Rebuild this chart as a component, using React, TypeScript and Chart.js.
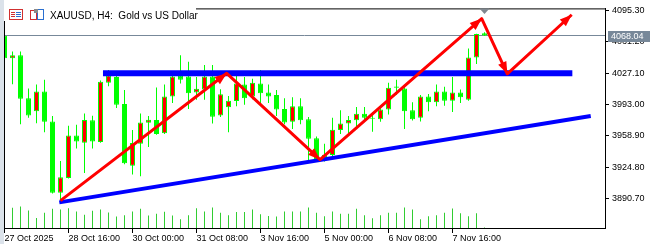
import React, { useEffect, useRef } from 'react';
import { Chart, registerables } from 'chart.js';

Chart.register(...registerables);

// ---- data (H4 bars, index 0..60) ----
const opens = [
  4067.7, 4043.3, 4046.5, 3999.8, 3985.6, 4006.9, 3974.3, 3896.8, 3913.0, 3959.1,
  3951.2, 3975.7, 3952.0, 4016.4, 4022.8, 3993.4, 3926.2, 3950.2, 3972.9, 3976.1,
  3961.5, 4001.6, 4024.2, 4023.4, 4005.8, 4009.3, 4023.4, 3981.0, 3989.9, 3996.6,
  4014.6, 4001.6, 4015.7, 4005.8, 4003.3, 3988.1, 3974.0, 3991.0, 3976.7, 3956.2,
  3938.2, 3937.9, 3965.0, 3972.2, 3975.7, 3982.8, 3978.5, 3976.7, 3987.3, 4012.5,
  4010.4, 3986.7, 3978.5, 4001.6, 3995.2, 4006.9, 3996.9, 4005.8, 3998.0, 4044.0, 4070.5,
];
const highs = [
  4068.8, 4050.4, 4050.4, 4010.4, 4014.6, 4019.9, 3980.3, 3931.5, 3969.7, 3970.8,
  3983.1, 3980.7, 4018.9, 4030.5, 4026.3, 4008.6, 3965.0, 3983.1, 3980.3, 4011.4,
  4014.6, 4026.3, 4046.5, 4039.4, 4022.8, 4035.9, 4035.9, 4009.6, 4002.2, 4026.3,
  4022.8, 4021.0, 4030.5, 4014.6, 4008.6, 3999.8, 4000.8, 3999.8, 3979.3, 3958.0,
  3950.2, 3978.5, 3986.7, 3980.3, 3990.2, 3990.2, 3984.6, 3990.9, 4016.4, 4019.9,
  4013.9, 3995.2, 4003.3, 4004.3, 4014.6, 4012.2, 4022.8, 4009.3, 4053.9, 4069.8, 4071.5,
];
const lows = [
  4042.2, 4014.9, 3971.4, 3978.5, 3972.5, 3962.6, 3896.0, 3887.5, 3912.4, 3944.9,
  3918.3, 3944.9, 3951.2, 4012.8, 3989.1, 3927.9, 3916.6, 3914.8, 3946.7, 3960.0,
  3960.8, 3994.4, 4015.7, 3988.1, 3998.0, 3998.0, 3972.2, 3979.3, 3962.6, 3991.0,
  3992.6, 3998.7, 3994.4, 3994.4, 3980.3, 3971.4, 3966.1, 3971.4, 3932.6, 3932.6,
  3930.8, 3936.1, 3960.8, 3960.8, 3966.1, 3975.0, 3963.3, 3974.0, 3982.0, 4003.3,
  3966.1, 3975.5, 3974.3, 3985.6, 3990.9, 3991.6, 3984.6, 3994.4, 3997.0, 4036.9, 4067.5,
];
const closes = [
  4043.3, 4046.5, 3999.0, 3981.0, 4006.9, 3974.0, 3896.8, 3913.8, 3959.1, 3952.7,
  3976.1, 3952.7, 4017.5, 4024.5, 3992.6, 3929.0, 3950.9, 3973.2, 3976.4, 3960.8,
  4001.6, 4023.4, 4019.9, 4005.1, 4010.1, 4023.4, 3979.6, 4004.0, 3996.9, 4015.7,
  3999.8, 4016.4, 4005.1, 4001.6, 3987.3, 3973.2, 3991.0, 3975.7, 3955.5, 3933.6,
  3935.0, 3965.5, 3972.2, 3976.1, 3982.8, 3978.5, 3977.5, 3987.3, 4011.1, 4011.1,
  3985.6, 3976.7, 4001.6, 3995.2, 4006.9, 3996.9, 4005.8, 4000.8, 4044.0, 4069.5, 4068.04,
];
const volumes = [
  18000, 20700, 22000, 18000, 10300, 15700, 19700, 19000, 20300, 17000,
  13700, 17700, 19000, 16000, 11700, 13000, 17000, 19700, 12700, 14700,
  16700, 12700, 9000, 13000, 20300, 17000, 21000, 15700, 13000, 16300,
  16300, 19000, 14000, 12300, 11700, 17000, 17000, 17000, 21000, 15700,
  12000, 17000, 14700, 14700, 19700, 13000, 10000, 13000, 15700, 15700,
  21000, 19000, 9000, 12000, 13000, 15700, 20000, 15000, 12000, 15000, 500,
];

const xTickBars = [0, 8, 16, 24, 32, 40, 48, 56];
const xTickLabels = [
  '27 Oct 2025', '28 Oct 16:00', '30 Oct 00:00', '31 Oct 08:00',
  '3 Nov 16:00', '5 Nov 00:00', '6 Nov 08:00', '7 Nov 16:00',
];
const yTickValues = [3890.7, 3924.8, 3958.9, 3993.0, 4027.1, 4061.2, 4095.3];

const bidPrice = 4068.04;
// drawn objects (bar index, price)
const resistanceX = [12.31, 70.98];
const resistanceY = [4026.8, 4026.8];
const trendX = [6.85, 73.28];
const trendY = [3886.4, 3980.3];
const zigzagX = [7.0, 27.78, 39.44, 59.65, 62.85, 70.9];
const zigzagY = [3888.3, 4026.8, 3932.9, 4086.3, 4026.3, 4090.5];

const titleText = 'XAUUSD, H4:  Gold vs US Dollar';

const FONT = '"Liberation Sans", Arial, sans-serif';

export default function App() {
  const ref = useRef<HTMLCanvasElement>(null);

  useEffect(() => {
    const canvas = ref.current;
    if (!canvas) return;
    const idx = opens.map((_, i) => i);
    const bodies = idx.map((i) => ({ x: i, y: [opens[i], closes[i]] }));
    const wicks = idx.map((i) => ({ x: i, y: [lows[i], highs[i]] }));
    const vols = idx.map((i) => ({ x: i, y: volumes[i] }));
    const bodyColors = idx.map((i) => (closes[i] > opens[i] ? '#ff0000' : '#00ff00'));

    const overlay = {
      id: 'mtOverlay',
      beforeDraw(chart: any) {
        const { ctx, width, height } = chart;
        ctx.save();
        ctx.fillStyle = '#ffffff';
        ctx.fillRect(0, 0, width, height);
        ctx.fillStyle = '#dbe2ea';
        ctx.fillRect(0, 0, 4, height);
        ctx.restore();
      },
      beforeDatasetsDraw(chart: any) {
        const { ctx, chartArea } = chart;
        const y = Math.floor(chart.scales.y.getPixelForValue(bidPrice)) + 0.5;
        ctx.save();
        ctx.strokeStyle = '#778899';
        ctx.lineWidth = 1;
        ctx.beginPath();
        ctx.moveTo(chartArea.left, y);
        ctx.lineTo(chartArea.right, y);
        ctx.stroke();
        ctx.restore();
      },
      afterDatasetsDraw(chart: any) {
        const { ctx } = chart;
        const meta = chart.getDatasetMeta(0);
        const pts = meta.data;
        ctx.save();
        ctx.fillStyle = '#ff0000';
        for (let i = 1; i < pts.length; i++) {
          const a = pts[i - 1];
          const b = pts[i];
          const ang = Math.atan2(b.y - a.y, b.x - a.x);
          const L = 12;
          const W = 4.5;
          const bx = b.x - L * Math.cos(ang);
          const by = b.y - L * Math.sin(ang);
          const px = -Math.sin(ang);
          const py = Math.cos(ang);
          ctx.beginPath();
          ctx.moveTo(b.x, b.y);
          ctx.lineTo(bx + W * px, by + W * py);
          ctx.lineTo(bx - W * px, by - W * py);
          ctx.closePath();
          ctx.fill();
        }
        ctx.restore();
      },
      afterDraw(chart: any) {
        const { ctx, chartArea } = chart;
        ctx.save();
        // frame
        ctx.strokeStyle = '#000';
        ctx.lineWidth = 1;
        ctx.beginPath();
        ctx.moveTo(chartArea.left + 0.5, 21);
        ctx.lineTo(chartArea.left + 0.5, chartArea.bottom);
        ctx.moveTo(196, chartArea.top + 0.5);
        ctx.lineTo(chartArea.right, chartArea.top + 0.5);
        ctx.stroke();

        // chart shift marker at the last bar
        const sx = chart.scales.x.getPixelForValue(opens.length - 1);
        ctx.fillStyle = '#808890';
        ctx.beginPath();
        ctx.moveTo(sx - 5, chartArea.top);
        ctx.lineTo(sx + 5, chartArea.top);
        ctx.lineTo(sx, chartArea.top + 5.5);
        ctx.closePath();
        ctx.fill();

        // icons
        ctx.strokeStyle = '#d03030';
        ctx.strokeRect(9.5, 9.5, 13, 10);
        ctx.fillStyle = '#d03030';
        ctx.fillRect(11, 12, 4, 1);
        ctx.fillRect(11, 14, 4, 1);
        ctx.fillRect(11, 16, 4, 1);
        ctx.fillStyle = '#2a6fd0';
        ctx.fillRect(16, 12, 5, 1);
        ctx.fillRect(16, 14, 5, 1);
        ctx.fillRect(16, 16, 5, 1);
        ctx.strokeStyle = '#d03030';
        ctx.strokeRect(30.5, 10.5, 6, 9);
        ctx.strokeStyle = '#2a6fd0';
        ctx.strokeRect(37.5, 9.5, 6, 10);
        ctx.fillStyle = '#8a8a8a';
        ctx.fillRect(34, 9, 4, 4);

        // title
        ctx.fillStyle = '#000';
        ctx.font = '10px ' + FONT;
        ctx.textAlign = 'left';
        ctx.textBaseline = 'alphabetic';
        ctx.fillText(titleText, 50, 18.5);

        // bid price label
        const by = Math.floor(chart.scales.y.getPixelForValue(bidPrice)) + 0.5;
        ctx.fillStyle = '#778899';
        ctx.fillRect(608, by - 4.5, 42, 11);
        ctx.fillStyle = '#ffffff';
        ctx.font = '9px ' + FONT;
        ctx.textBaseline = 'middle';
        ctx.fillText(bidPrice.toFixed(2), 611, by + 1);
        ctx.restore();
      },
    };

    const chart = new Chart(canvas, {
      type: 'bar',
      data: {
        datasets: [
          {
            type: 'line',
            label: 'zigzag',
            data: zigzagX.map((x, i) => ({ x, y: zigzagY[i] })),
            borderColor: '#ff0000',
            borderWidth: 3,
            pointRadius: 0,
            tension: 0,
            borderJoinStyle: 'round',
            order: 0,
          } as any,
          {
            type: 'line',
            label: 'trend',
            data: trendX.map((x, i) => ({ x, y: trendY[i] })),
            borderColor: '#0000ff',
            borderWidth: 4,
            pointRadius: 0,
            order: 1,
          } as any,
          {
            type: 'line',
            label: 'resistance',
            data: resistanceX.map((x, i) => ({ x, y: resistanceY[i] })),
            borderColor: '#0000ff',
            borderWidth: 6,
            pointRadius: 0,
            order: 2,
          } as any,
          {
            label: 'body',
            data: bodies,
            backgroundColor: bodyColors,
            borderColor: '#00ff00',
            borderWidth: 1,
            borderSkipped: false,
            barThickness: 5,
            grouped: false,
            inflateAmount: 0,
            order: 3,
          } as any,
          {
            label: 'wick',
            data: wicks,
            backgroundColor: '#00ff00',
            borderWidth: 0,
            barThickness: 1,
            grouped: false,
            inflateAmount: 0,
            order: 4,
          } as any,
          {
            label: 'volume',
            data: vols,
            yAxisID: 'yv',
            backgroundColor: '#32cd32',
            borderWidth: 0,
            barThickness: 1,
            grouped: false,
            inflateAmount: 0,
            order: 5,
          } as any,
        ],
      },
      options: {
        responsive: false,
        animation: false,
        devicePixelRatio: 1,
        events: [],
        layout: { padding: { left: 4, top: 3, right: 0, bottom: 0 } },
        plugins: {
          legend: { display: false },
          tooltip: { enabled: false },
        },
        scales: {
          x: {
            type: 'linear',
            position: 'bottom',
            min: -0.0625,
            max: 75.0625,
            offset: false,
            grid: { drawOnChartArea: false, drawTicks: true, tickLength: 5, color: '#000', offset: false },
            border: { display: true, color: '#000' },
            ticks: {
              align: 'start',
              maxRotation: 0,
              minRotation: 0,
              autoSkip: false,
              padding: 0,
              color: '#000',
              font: { family: FONT, size: 9 },
              callback: (_v: any, i: number) => xTickLabels[i] ?? '',
            },
            afterBuildTicks: (s: any) => {
              s.ticks = xTickBars.map((v) => ({ value: v }));
            },
            afterFit: (s: any) => {
              s.height = 16;
            },
          },
          y: {
            type: 'linear',
            position: 'right',
            min: 3858.52,
            max: 4097.42,
            grid: { drawOnChartArea: false, drawTicks: true, tickLength: 4, color: '#000' },
            border: { display: true, color: '#000' },
            ticks: {
              color: '#000',
              padding: 3,
              font: { family: FONT, size: 9 },
              callback: (v: any) => Number(v).toFixed(2),
            },
            afterBuildTicks: (s: any) => {
              s.ticks = yTickValues.map((v) => ({ value: v }));
            },
            afterFit: (s: any) => {
              s.width = 45;
            },
          },
          yv: { type: 'linear', display: false, min: 0, max: 225000 },
        },
      } as any,
      plugins: [overlay],
    });
    return () => chart.destroy();
  }, []);

  return (
    <div style={{ position: 'absolute', left: 0, top: 0, width: 650, height: 244, background: '#fff' }}>
      <canvas ref={ref} width={650} height={244} style={{ display: 'block' }} />
    </div>
  );
}
